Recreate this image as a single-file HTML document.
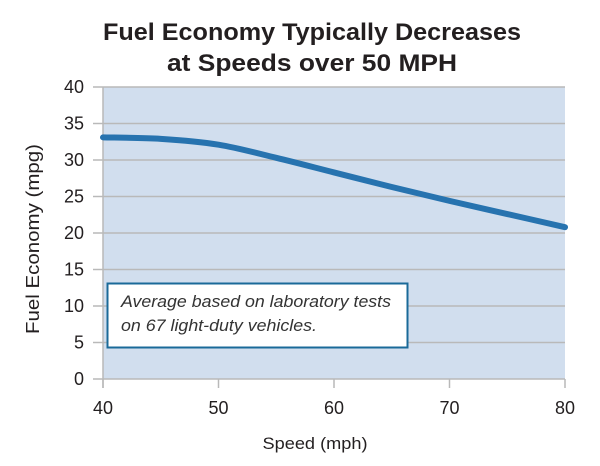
<!DOCTYPE html>
<html><head><meta charset="utf-8"><style>
body{margin:0;background:#fff;width:600px;height:461px;overflow:hidden;font-family:"Liberation Sans",sans-serif}
</style></head><body>
<svg width="600" height="461" xmlns="http://www.w3.org/2000/svg">
<text x="312" y="40" text-anchor="middle" font-size="24.5" font-weight="bold" fill="#231f20" textLength="418" lengthAdjust="spacingAndGlyphs">Fuel Economy Typically Decreases</text>
<text x="312" y="71" text-anchor="middle" font-size="24.5" font-weight="bold" fill="#231f20" textLength="290" lengthAdjust="spacingAndGlyphs">at Speeds over 50 MPH</text>
<rect x="103" y="87" width="462" height="292" fill="#d1deee"/>
<g id="grid"></g>
<g id="yticks"></g>
<g id="xticks"></g>
<path id="line" fill="none" stroke="#2773af" stroke-width="6" stroke-linecap="round" stroke-linejoin="round"/>
<rect x="107.5" y="283.5" width="300" height="64" fill="#fff" stroke="#1a6a99" stroke-width="2"/>
<text x="121" y="307" font-size="16.5" font-style="italic" fill="#333" textLength="270" lengthAdjust="spacingAndGlyphs">Average based on laboratory tests</text>
<text x="121" y="331" font-size="16.5" font-style="italic" fill="#333" textLength="196" lengthAdjust="spacingAndGlyphs">on 67 light-duty vehicles.</text>
<text transform="translate(39,239) rotate(-90)" text-anchor="middle" font-size="18" fill="#231f20" textLength="190" lengthAdjust="spacingAndGlyphs">Fuel Economy (mpg)</text>
<text x="315" y="449" text-anchor="middle" font-size="17" fill="#231f20" textLength="105" lengthAdjust="spacingAndGlyphs">Speed (mph)</text>
</svg>
<script>
const speeds=[40,45,50,55,60,65,70,75,80];
const mpg=[33.1,32.9,32.1,30.3,28.3,26.3,24.4,22.6,20.8];
const yTicks=[0,5,10,15,20,25,30,35,40];
const xTicks=[40,50,60,70,80];
const X=v=>103+(v-40)/40*462, Y=v=>379-v/40*292;
const ns="http://www.w3.org/2000/svg";
const mk=(t,a,p)=>{const e=document.createElementNS(ns,t);for(const k in a)e.setAttribute(k,a[k]);document.getElementById(p).appendChild(e);return e;};
yTicks.forEach(v=>{
 const l=mk('line',{x1:93,x2:565,y1:Y(v),y2:Y(v),stroke:'#b9b9b9','stroke-width':1.5},'grid');
 
 
 const t=mk('text',{x:84,y:Y(v)+6,'text-anchor':'end','font-size':18,fill:'#231f20'},'yticks');
 t.textContent=v;
 
 
});
const ax=mk('line',{x1:103,x2:103,y1:87,y2:388,stroke:'#b9b9b9','stroke-width':1.5},'grid');


xTicks.forEach(v=>{
 const l=mk('line',{x1:X(v),x2:X(v),y1:379,y2:388,stroke:'#b9b9b9','stroke-width':1.5},'xticks');
 
 
 const t=mk('text',{x:X(v),y:414,'text-anchor':'middle','font-size':18,fill:'#231f20'},'xticks');
 t.textContent=v;
 
 
});
const pts=speeds.map((s,i)=>[X(s),Y(mpg[i])]);
let d='M'+pts[0].join(',');
for(let i=0;i<pts.length-1;i++){
 const p0=pts[Math.max(0,i-1)],p1=pts[i],p2=pts[i+1],p3=pts[Math.min(pts.length-1,i+2)];
 const c1=[p1[0]+(p2[0]-p0[0])/6,p1[1]+(p2[1]-p0[1])/6],c2=[p2[0]-(p3[0]-p1[0])/6,p2[1]-(p3[1]-p1[1])/6];
 d+=` C${c1.join(',')} ${c2.join(',')} ${p2.join(',')}`;
}
document.getElementById('line').setAttribute('d',d);
</script>
</body></html>
